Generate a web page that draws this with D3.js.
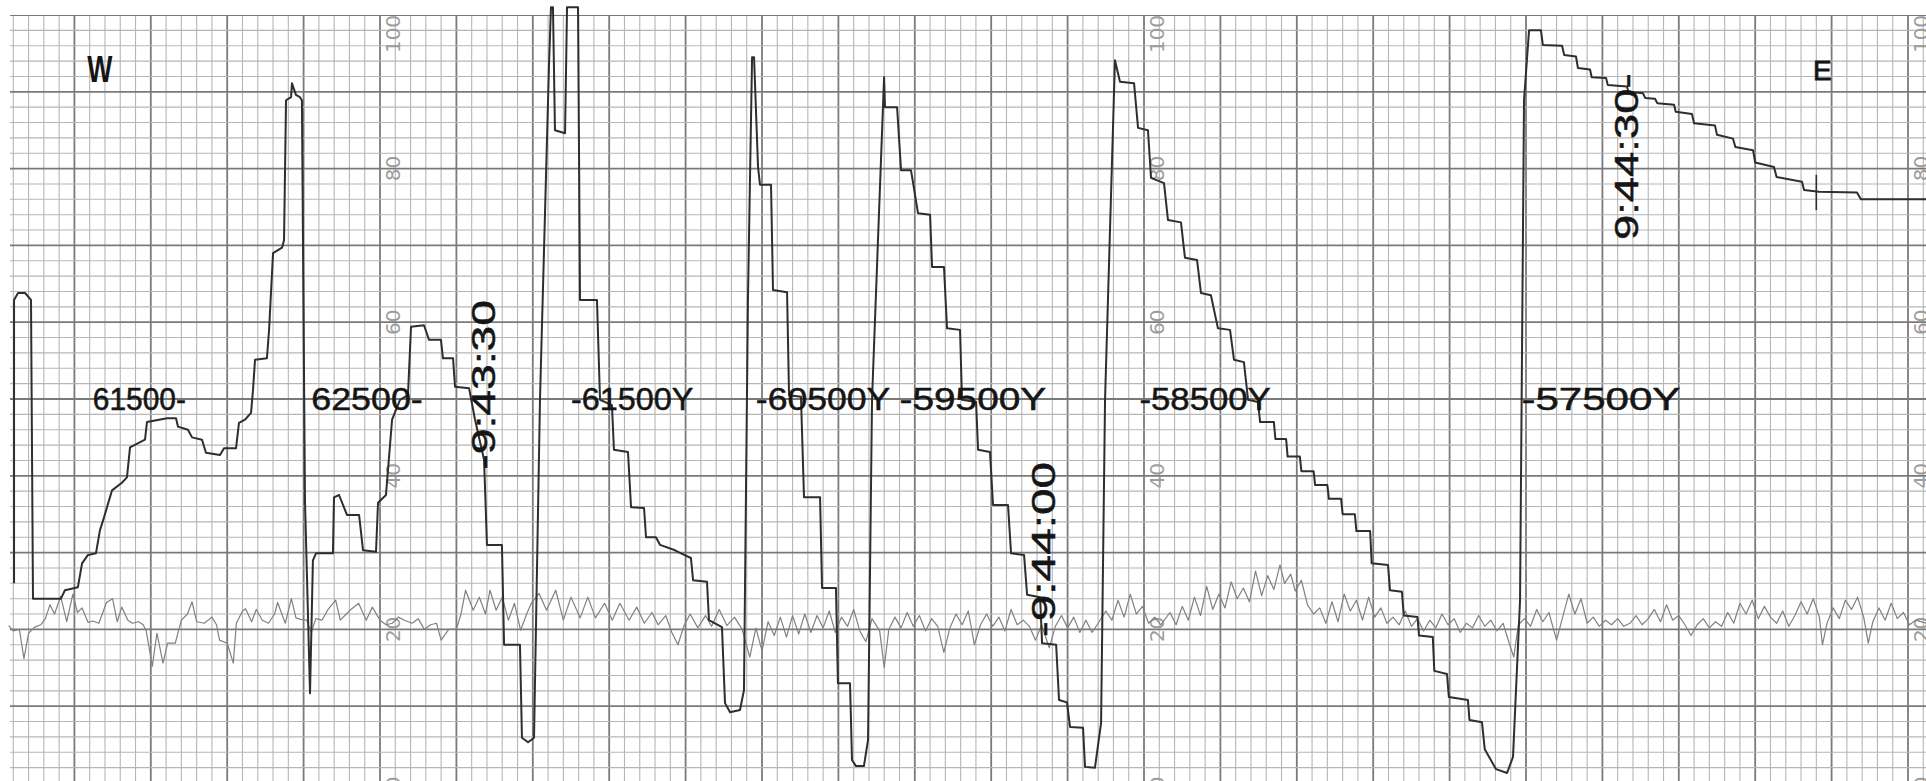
<!DOCTYPE html>
<html>
<head>
<meta charset="utf-8">
<script src="https://cdn.jsdelivr.net/npm/d3@7"></script>
<style>
html, body { margin: 0; padding: 0; background: #fff; }
svg { display: block; }
</style>
</head>
<body>
<svg width="1926" height="781"></svg>
<script>
'use strict';

// pen 1 : main trace, [paper division, chart reading 0..100]
var mainTrace = [
    [-23.95,26.0],[-23.95,62.9],[-23.69,63.8],[-23.23,63.8],[-22.84,62.9],[-22.71,24.0],[-20.88,24.0],[-20.62,25.1],
    [-19.77,25.5],[-19.50,28.6],[-19.11,29.7],[-18.59,29.9],[-18.33,32.9],[-18.06,34.6],[-17.54,38.1],[-16.89,39.1],
    [-16.56,39.8],[-16.36,43.7],[-15.38,44.7],[-15.25,47.0],[-13.94,47.5],[-13.35,47.5],[-13.22,46.4],[-12.57,46.0],
    [-12.30,45.0],[-11.65,44.7],[-11.39,43.0],[-10.47,42.7],[-10.21,43.6],[-9.42,43.6],[-9.23,46.9],[-8.84,47.3],
    [-8.44,48.2],[-8.31,51.2],[-8.18,55.1],[-7.40,55.3],[-7.26,59.0],[-7.00,69.0],[-6.41,69.7],[-6.28,70.7],
    [-6.15,88.9],[-5.82,89.3],[-5.76,91.1],[-5.50,89.6],[-5.24,89.3],[-5.11,88.9],
    [-4.91,36.8],[-4.58,11.7],[-4.39,29.0],[-4.19,29.9],[-3.08,29.9],[-3.01,37.2],[-2.68,37.5],[-2.16,34.9],
    [-1.37,34.9],[-1.11,30.3],[-0.26,30.1],[-0.13,36.5],[0.39,37.5],[0.79,47.3],[1.31,49.9],[1.83,50.5],
    [2.03,59.4],[2.88,59.6],[3.21,57.7],[3.99,57.7],[4.12,55.3],[4.78,55.3],[4.91,51.6],[5.83,51.4],
    [6.22,47.3],[6.81,42.1],[7.00,31.0],[7.98,31.0],[8.12,18.0],[9.16,18.0],[9.29,5.9],[9.69,5.3],
    [10.08,5.9],[10.47,49.9],[11.06,93.5],[11.19,101],[11.32,101],[11.45,85.0],[12.11,84.6],[12.24,101],[12.96,101],
    [13.09,62.9],[14.20,62.9],[14.40,49.9],[15.18,49.2],[15.31,43.4],[16.23,43.1],[16.43,35.9],[17.28,35.8],
    [17.41,32.0],[18.06,32.0],[18.33,31.0],[19.31,30.3],[19.70,29.9],[20.35,29.3],[20.49,26.4],[21.40,26.2],
    [21.53,21.2],[22.38,20.3],[22.58,10.4],[22.91,9.2],[23.56,9.5],[23.82,12.1],[24.08,62.9],[24.35,94.5],
    [24.48,94.5],[24.74,80.2],[24.87,77.9],[25.59,77.9],[25.72,64.2],[26.64,63.9],[26.77,50.5],[27.55,50.3],
    [27.75,37.2],[28.80,37.2],[28.93,25.4],[29.84,25.4],[29.97,13.0],[30.76,13.0],[30.89,3.0],[31.15,2.2],
    [31.67,2.2],[31.94,5.6],[32.20,49.9],[32.99,91.9],
    [33.05,88.0],[33.84,88.0],[34.10,79.8],[34.75,79.8],[35.21,74.2],[36.00,74.0],[36.13,67.2],[36.91,67.2],
    [37.11,59.2],[37.96,59.0],[38.09,49.9],[39.01,49.6],[39.14,43.4],[39.92,43.1],[40.12,36.2],[41.10,36.2],
    [41.30,29.9],[42.15,29.7],[42.35,24.5],[43.20,24.2],[43.33,18.2],[44.25,18.0],[44.44,10.8],[44.96,10.5],
    [45.16,7.3],[46.01,7.2],[46.14,2.1],[46.79,2.0],[47.19,7.8],[47.45,49.9],[48.10,94.1],
    [48.43,91.3],[49.35,91.1],[49.61,85.3],[50.26,85.0],[50.46,78.8],[51.31,78.1],[51.57,73.3],[52.42,73.0],
    [52.68,68.4],[53.47,68.1],[53.73,63.8],[54.38,63.5],[54.84,59.2],[55.63,59.0],[55.89,55.1],[56.54,54.8],
    [56.81,49.9],[57.46,49.6],[57.60,47.0],[58.50,47.0],[58.60,44.8],[59.30,44.8],[59.40,42.5],[60.20,42.5],
    [60.30,40.6],[61.10,40.6],[61.20,38.8],[62.00,38.8],[62.10,37.0],[62.90,37.0],[63.00,35.0],[63.80,35.0],
    [63.90,32.8],[64.80,32.8],[64.90,28.6],[65.97,28.4],[66.10,25.1],[66.88,24.9],[67.00,21.8],[67.90,21.6],
    [68.00,19.2],[68.90,19.0],[69.00,14.6],[69.83,14.2],[69.95,11.2],[71.20,10.8],[71.30,8.2],[72.12,7.9],
    [72.30,4.4],[73.04,1.8],[73.76,1.3],[74.15,3.4],[74.61,23.8],[74.87,88.9],[75.20,98.0],
    [75.98,98.0],[76.10,96.1],[77.36,96.0],[77.50,94.8],[78.27,94.6],[78.40,93.1],[79.19,92.9],[79.30,91.9],
    [80.24,91.8],[80.35,90.9],[81.61,90.7],[81.70,90.0],[82.66,89.8],[82.80,89.2],[83.44,89.1],[83.60,88.5],
    [84.69,88.3],[84.80,87.4],[85.86,87.1],[86.00,85.9],[87.37,85.6],[87.50,84.4],[88.55,83.9],[88.70,82.8],
    [89.86,82.4],[90.00,80.8],[91.23,80.2],[91.40,78.9],[93.06,78.3],[93.20,77.2],[94.18,77.0],[96.66,76.9],
    [96.92,76.0],[101.2,76.0]
];

// pen 2 : the light noisy trace near 20
var noiseTrace = [
    [-24.3,20.5],[-24.0,19.8],[-23.6,20.0],[-23.3,16.2],[-23.0,19.5],[-22.6,20.3],[-22.2,20.6],[-21.9,21.4],
    [-21.6,23.2],[-21.3,22.0],[-20.9,24.3],[-20.5,21.0],[-20.1,24.6],[-19.8,22.2],[-19.5,22.8],[-19.1,20.9],
    [-18.8,21.1],[-18.4,20.8],[-17.9,23.5],[-17.5,24.0],[-17.2,21.0],[-16.9,22.9],[-16.5,21.2],[-16.2,20.8],
    [-15.8,21.0],[-15.5,20.6],[-15.3,19.8],[-14.9,15.2],[-14.6,19.5],[-14.2,15.6],[-13.9,18.2],[-13.4,18.2],
    [-13.0,21.2],[-12.6,22.0],[-12.3,23.6],[-12.0,21.0],[-11.5,20.8],[-11.0,21.6],[-10.7,20.6],[-10.5,18.6],
    [-10.0,18.2],[-9.6,15.6],[-9.4,20.8],[-9.0,22.4],[-8.8,22.7],[-8.4,21.0],[-8.1,22.6],[-7.7,21.2],
    [-7.3,20.8],[-6.9,22.0],[-6.7,23.5],[-6.2,20.8],[-5.8,24.0],[-5.5,21.5],[-5.2,21.3],[-4.8,21.2],
    [-4.5,19.6],[-4.2,21.4],[-3.8,21.2],[-3.4,22.6],[-2.9,23.8],[-2.6,21.2],[-2.2,22.0],[-1.9,22.6],
    [-1.4,23.4],[-0.9,21.2],[-0.5,22.9],[0,21.2],[0.4,20.6],[0.8,20.8],[1.2,21.6],[1.6,21.2],
    [2.1,20.8],[2.5,21.4],[2.9,20.0],[3.3,20.6],[3.7,20.8],[4.0,18.6],[4.5,20.0],[5.0,20.0],
    [5.3,22.0],[5.6,25.1],[6.1,22.5],[6.5,24.2],[6.9,22.0],[7.2,25.1],[7.6,22.5],[8.0,24.2],
    [8.4,21.2],[8.8,23.4],[9.2,19.9],[9.6,22.0],[9.9,23.4],[10.4,24.7],[10.9,22.5],[11.5,25.1],
    [12.0,21.2],[12.5,24.2],[13.1,21.5],[13.6,24.2],[14.1,21.5],[14.7,23.4],[15.2,21.2],[15.7,23.4],
    [16.3,21.2],[16.8,22.9],
    [17.3,20.8],[17.8,22.2],[18.2,20.6],[18.7,21.8],[19.1,19.6],[19.5,18.0],[19.9,20.5],[20.3,22.0],
    [20.8,20.2],[21.3,21.8],[21.7,20.4],[22.2,22.6],[22.7,20.5],[23.2,21.6],[23.7,20.0],[24.2,16.4],
    [24.6,20.2],[25.0,17.2],[25.4,21.0],[25.8,19.2],[26.2,21.6],[26.6,19.0],[27.0,21.8],[27.4,19.4],
    [27.8,22.0],[28.2,19.6],[28.6,21.8],[29.0,20.2],[29.4,22.4],[29.8,19.6],[30.2,21.6],[30.6,20.4],
    [31.0,22.6],[31.4,19.8],[31.8,18.4],[32.2,21.4],[32.7,19.8],[33.0,15.0],[33.3,20.0],[33.7,21.6],
    [34.1,20.2],[34.5,22.2],[34.9,20.4],[35.3,21.8],[35.7,19.8],[36.1,21.4],[36.5,20.4],[36.9,17.0],
    [37.3,20.2],[37.7,22.0],[38.1,20.6],[38.5,22.4],[38.9,18.0],[39.3,20.6],[39.7,22.0],[40.1,20.4],
    [40.5,21.6],[40.9,19.8],[41.3,22.6],[41.7,20.6],[42.1,21.2],[42.5,20.4],[42.9,18.6],[43.3,20.6],
    [43.8,17.6],[44.2,20.4],[44.6,21.8],[45.0,20.2],[45.4,21.6],[45.8,19.6],[46.2,21.2],[46.6,19.6],
    [47.0,20.8],[47.5,22.4],[47.9,21.2],[48.3,23.8],[48.7,21.6],[49.1,24.6],[49.5,22.0],[49.9,23.0],
    [50.3,20.8],[50.7,21.6],[51.1,20.6],[51.7,22.2],[52.1,20.6],[52.5,23.0],[52.9,21.2],[53.3,24.2],
    [53.7,21.8],[54.1,25.6],[54.5,22.6],[54.9,24.6],[55.3,22.8],[55.7,26.2],[56.1,24.0],[56.5,25.4],
    [56.9,23.6],[57.3,27.6],[57.7,24.4],[58.1,27.0],[58.5,25.2],[58.9,28.4],[59.2,26.0],
    [59.6,27.2],[59.9,25.0],[60.3,26.4],[60.7,23.2],[61.1,22.0],[61.5,22.8],[61.9,20.8],[62.3,23.6],
    [62.7,21.0],[63.1,24.6],[63.5,22.4],[63.9,23.8],[64.3,21.2],[64.7,24.2],[65.1,21.6],[65.5,22.8],
    [65.9,20.8],[66.3,21.6],[66.7,20.6],[67.1,22.4],[67.5,20.4],[67.9,21.4],[68.3,19.8],[68.7,21.2],
    [69.1,20.2],[69.5,22.0],[69.9,20.6],[70.3,21.4],[70.7,19.6],[71.1,20.8],[71.5,20.2],[71.9,21.8],
    [72.3,20.4],[72.7,21.2],[73.1,19.8],[73.5,20.8],[73.9,18.2],[74.2,16.4],[74.5,20.6],[74.9,21.4],
    [75.3,20.4],[75.7,22.6],[76.1,21.0],[76.5,22.2],[77.0,18.6],[77.4,21.6],[77.8,24.6],[78.2,22.0],
    [78.6,24.0],[79.0,20.8],[79.4,21.6],[79.8,20.4],[80.2,21.2],[80.6,20.6],[81.0,21.4],[81.4,20.4],
    [81.8,20.8],[82.2,21.8],[82.6,20.6],[83.0,21.4],[83.4,22.6],[83.8,21.0],[84.2,23.2],[84.6,21.2],
    [85.0,21.8],[85.4,20.6],[85.8,19.2],[86.2,20.6],[86.6,21.4],[87.0,20.2],[87.4,21.0],[87.8,20.4],
    [88.2,22.2],[88.6,20.8],[89.0,23.4],[89.4,22.0],[89.8,23.8],[90.2,21.4],[90.6,23.0],[91.0,21.6],
    [91.4,20.8],[91.8,22.4],[92.2,20.4],[92.6,21.8],[93.0,23.6],[93.4,22.0],[93.8,24.0],[94.2,21.6],
    [94.4,18.0],[94.7,20.8],[95.1,22.8],[95.5,21.4],[95.9,23.8],[96.3,22.6],[96.7,24.2],[97.1,21.6],
    [97.4,18.2],[97.7,21.0],[98.1,22.8],[98.5,21.2],[98.9,23.4],[99.3,21.4],[99.7,22.2],[100.1,20.6],
    [100.5,21.2],[101.2,20.8]
];

// printed scale of the chart paper
var scaleValues = [0, 20, 40, 60, 80, 100];
var scaleColumns = [0, 50, 100];

// hand written field values (u = start, w = lettered width, both in divisions)
var fieldLabels = [
    {text: '61500-', u: -18.8, v: 48.6, w: 6.1},
    {text: '62500-', u: -4.5, v: 48.6, w: 7.3},
    {text: '-61500Y', u: 12.5, v: 48.6, w: 8.0},
    {text: '-60500Y', u: 24.6, v: 48.6, w: 8.8},
    {text: '-59500Y', u: 34.0, v: 48.6, w: 9.6},
    {text: '-58500Y', u: 49.7, v: 48.6, w: 8.6},
    {text: '-57500Y', u: 74.7, v: 48.6, w: 10.4}
];
var timeLabels = [
    {text: '-9:43:30', u: 6.75, v0: 40.8, v1: 62.9},
    {text: '-9:44:00', u: 43.45, v0: 19.0, v1: 41.8},
    {text: '9:44:30-', u: 81.6, v0: 70.7, v1: 92.4}
];
var sideLabels = [
    {text: 'W', u: -18.33, v: 91.3, bold: true},
    {text: 'E', u: 94.4, v: 91.5, bold: false}
];
var endMark = {u: 94.0, v0: 74.6, v1: 79.2};

var width = 1926, height = 781;
var paperLeft = 10, paperTop = 15;

var svg = d3.select('svg');
var x = d3.scaleLinear().domain([0, 100]).range([380, 1908]);
var y = d3.scaleLinear().domain([0, 100]).range([783, 15]);

svg.append('rect').attr('width', width).attr('height', height).attr('fill', '#fff');

svg.append('clipPath').attr('id', 'paper')
    .append('rect')
    .attr('x', paperLeft).attr('y', paperTop)
    .attr('width', width - paperLeft).attr('height', height - paperTop);

// grid
var grid = svg.append('g').attr('clip-path', 'url(#paper)');
var uLines = d3.range(Math.ceil(x.invert(paperLeft)), Math.floor(x.invert(width)) + 1);
var vLines = d3.range(0, 101, 2);

grid.selectAll('line.v')
    .data(uLines)
    .enter()
    .append('line')
    .attr('x1', function (d) { return x(d); })
    .attr('x2', function (d) { return x(d); })
    .attr('y1', paperTop)
    .attr('y2', height)
    .attr('stroke', function (d) { return d % 5 === 0 ? '#7a7a7a' : '#b6b6b6'; })
    .attr('stroke-width', function (d) { return d % 5 === 0 ? 1.8 : 1.1; });

grid.selectAll('line.h')
    .data(vLines)
    .enter()
    .append('line')
    .attr('x1', paperLeft)
    .attr('x2', width)
    .attr('y1', function (d) { return y(d); })
    .attr('y2', function (d) { return y(d); })
    .attr('stroke', function (d) { return d % 10 === 0 ? '#7a7a7a' : '#b6b6b6'; })
    .attr('stroke-width', function (d) { return d % 10 === 0 ? 1.8 : 1.1; });

// printed scale numbers
var scaleCells = [];
scaleColumns.forEach(function (c) {
    scaleValues.forEach(function (s) { scaleCells.push({c: c, s: s}); });
});
grid.selectAll('text.scale')
    .data(scaleCells)
    .enter()
    .append('text')
    .text(function (d) { return d.s; })
    .attr('transform', function (d) {
        var cy = Math.max(y(d.s), 34);
        return 'translate(' + (x(d.c) + 13) + ',' + cy + ') rotate(-90)';
    })
    .attr('text-anchor', 'middle')
    .attr('dominant-baseline', 'central')
    .attr('font-family', 'DejaVu Sans')
    .attr('font-size', 20)
    .attr('fill', '#9c9c9c');

// traces
var line = d3.line()
    .x(function (d) { return x(d[0]); })
    .y(function (d) { return y(d[1]); });

svg.append('path')
    .datum(noiseTrace)
    .attr('d', line)
    .attr('fill', 'none')
    .attr('stroke', '#808080')
    .attr('stroke-width', 1.2)
    .attr('stroke-linejoin', 'round');

svg.append('path')
    .datum(mainTrace)
    .attr('d', line)
    .attr('fill', 'none')
    .attr('stroke', '#2e2e2e')
    .attr('stroke-width', 2)
    .attr('stroke-linejoin', 'round');

svg.append('line')
    .attr('x1', x(endMark.u)).attr('x2', x(endMark.u))
    .attr('y1', y(endMark.v0)).attr('y2', y(endMark.v1))
    .attr('stroke', '#2e2e2e')
    .attr('stroke-width', 1.6);

// field values
svg.selectAll('text.field')
    .data(fieldLabels)
    .enter()
    .append('text')
    .text(function (d) { return d.text; })
    .attr('x', function (d) { return x(d.u); })
    .attr('y', function (d) { return y(d.v); })
    .attr('textLength', function (d) { return x(d.u + d.w) - x(d.u); })
    .attr('lengthAdjust', 'spacingAndGlyphs')
    .attr('font-family', 'Liberation Sans')
    .attr('font-size', 31)
    .attr('fill', '#151515')
    .attr('stroke', '#151515')
    .attr('stroke-width', 0.5);

// time marks, written along the paper
svg.selectAll('text.time')
    .data(timeLabels)
    .enter()
    .append('text')
    .text(function (d) { return d.text; })
    .attr('transform', function (d) {
        return 'translate(' + x(d.u) + ',' + y(d.v0) + ') rotate(-90)';
    })
    .attr('textLength', function (d) { return y(d.v0) - y(d.v1); })
    .attr('lengthAdjust', 'spacingAndGlyphs')
    .attr('dominant-baseline', 'central')
    .attr('font-family', 'Liberation Sans')
    .attr('font-size', 33)
    .attr('fill', '#151515')
    .attr('stroke', '#151515')
    .attr('stroke-width', 0.5);

// W / E
svg.selectAll('text.side')
    .data(sideLabels)
    .enter()
    .append('text')
    .text(function (d) { return d.text; })
    .attr('transform', function (d) {
        return 'translate(' + x(d.u) + ',' + y(d.v) + ')' + (d.bold ? ' scale(0.72,1)' : '');
    })
    .attr('text-anchor', 'middle')
    .attr('font-family', 'Liberation Sans')
    .attr('font-weight', function (d) { return d.bold ? 'bold' : 'normal'; })
    .attr('font-size', function (d) { return d.bold ? 37 : 28; })
    .attr('fill', '#151515')
    .attr('stroke', '#151515')
    .attr('stroke-width', function (d) { return d.bold ? 0 : 0.8; });
</script>
</body>
</html>
